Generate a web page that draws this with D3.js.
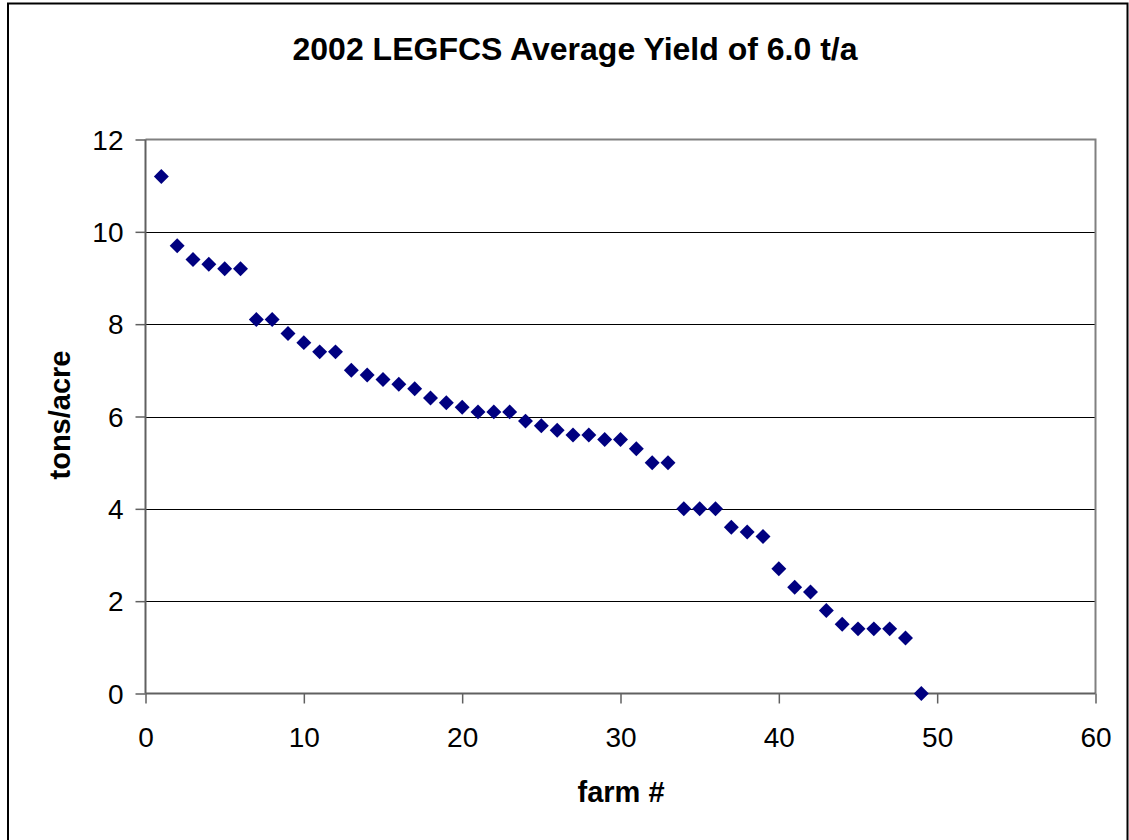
<!DOCTYPE html>
<html>
<head>
<meta charset="utf-8">
<script src="https://cdn.jsdelivr.net/npm/d3@7"></script>
<style>
  html, body { margin: 0; padding: 0; background: #fff; }
  svg { display: block; }
  text { font-family: "Liberation Sans", Arial, sans-serif; fill: #000; }
</style>
</head>
<body>
<svg id="chart" width="1129" height="840"></svg>
<script>
// Farm numbers and their 2002 yields (tons/acre)
const farms = [1,2,3,4,5,6,7,8,9,10,11,12,13,14,15,16,17,18,19,20,21,22,23,24,25,
               26,27,28,29,30,31,32,33,34,35,36,37,38,39,40,41,42,43,44,45,46,47,48,49];
const yields = [11.2,9.7,9.4,9.3,9.2,9.2,8.1,8.1,7.8,7.6,7.4,7.4,7.0,6.9,6.8,6.7,6.6,6.4,6.3,6.2,
                6.1,6.1,6.1,5.9,5.8,5.7,5.6,5.6,5.5,5.5,5.3,5.0,5.0,4.0,4.0,4.0,3.6,3.5,3.4,2.7,
                2.3,2.2,1.8,1.5,1.4,1.4,1.4,1.2,0.0];
const xTicks = [0,10,20,30,40,50,60];
const yTicks = [0,2,4,6,8,10,12];

const titleText = "2002 LEGFCS Average Yield of 6.0 t/a";
const xLabel = "farm #";
const yLabel = "tons/acre";

const svg = d3.select("#chart");

// Outer chart frame
svg.append("rect")
  .attr("x", 8).attr("y", 3.5)
  .attr("width", 1119.5).attr("height", 850)
  .attr("fill", "#fff").attr("stroke", "#000").attr("stroke-width", 2);

const plot = { left: 145.5, top: 139.5, right: 1095.5, bottom: 693.5 };

const x = d3.scaleLinear().domain([0, 60]).range([plot.left, plot.right]);
const y = d3.scaleLinear().domain([0, 12]).range([plot.bottom, plot.top]);

// Horizontal gridlines
svg.append("g")
  .selectAll("line")
  .data(yTicks.filter(t => t > 0 && t < 12))
  .join("line")
  .attr("x1", plot.left).attr("x2", plot.right)
  .attr("y1", d => Math.round(y(d)) + 0.5).attr("y2", d => Math.round(y(d)) + 0.5)
  .attr("stroke", "#000").attr("stroke-width", 1);

// Top and right edges of the plot area
svg.append("path")
  .attr("d", `M${plot.left},${plot.top}H${plot.right}V${plot.bottom}`)
  .attr("fill", "none").attr("stroke", "#808080").attr("stroke-width", 2);

// Axes
const xAxis = svg.append("g")
  .attr("transform", `translate(0,${plot.bottom})`)
  .call(d3.axisBottom(x).tickValues(xTicks).tickSize(10).tickPadding(24).tickFormat(d3.format("d")));
const yAxis = svg.append("g")
  .attr("transform", `translate(${plot.left},0)`)
  .call(d3.axisLeft(y).tickValues(yTicks).tickSize(10).tickPadding(12).tickFormat(d3.format("d")));

[xAxis, yAxis].forEach(g => {
  g.select(".domain").attr("stroke", "#606060").attr("stroke-width", 2);
  g.selectAll(".tick line").attr("stroke", "#606060").attr("stroke-width", 1.5);
  g.selectAll(".tick text")
    .attr("font-family", "'Liberation Sans', Arial, sans-serif")
    .attr("font-size", 28).attr("fill", "#000");
});
xAxis.select(".domain").attr("d", `M${plot.left},0H${plot.right}`);
yAxis.select(".domain").attr("d", `M0,${plot.top}V${plot.bottom}`);
yAxis.selectAll(".tick text").attr("dy", "0.35em");

// Data points: navy diamonds
const diamond = d3.symbol().type(d3.symbolSquare).size(112);
svg.append("g")
  .selectAll("path")
  .data(farms.map((f, i) => ({ farm: f, yield: yields[i] })))
  .join("path")
  .attr("d", diamond)
  .attr("transform", d => `translate(${x(d.farm)},${y(d.yield)}) rotate(45)`)
  .attr("fill", "#000080");

// Title and axis labels
svg.append("text")
  .attr("x", 575).attr("y", 60)
  .attr("text-anchor", "middle")
  .attr("font-size", 32).attr("font-weight", "bold")
  .text(titleText);

svg.append("text")
  .attr("x", 621).attr("y", 802)
  .attr("text-anchor", "middle")
  .attr("font-size", 29).attr("font-weight", "bold")
  .text(xLabel);

svg.append("text")
  .attr("transform", "translate(70,415) rotate(-90)")
  .attr("text-anchor", "middle")
  .attr("font-size", 29).attr("font-weight", "bold")
  .text(yLabel);
</script>
</body>
</html>
